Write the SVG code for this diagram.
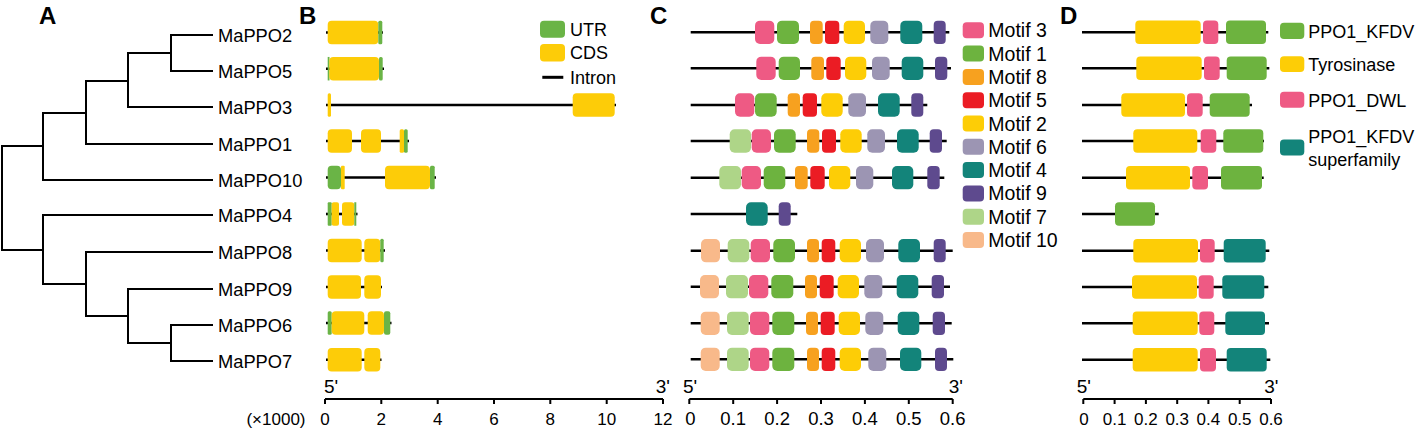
<svg xmlns="http://www.w3.org/2000/svg" width="1417" height="429" viewBox="0 0 1417 429">
<style>
text{font-family:"Liberation Sans",Arial,sans-serif;fill:#000}
.lbl{font-size:18.3px}
.pl{font-size:24px;font-weight:bold}
.tk{font-size:17px;text-anchor:middle}
.tkc{font-size:18.5px;text-anchor:middle}
.end{font-size:19px}
.lg{font-size:18px}
.lgc{font-size:19.5px}
.tree{fill:none;stroke:#000;stroke-width:2;stroke-linecap:square}
.ln{stroke:#000;stroke-width:2.6}
.ax{stroke:#000;stroke-width:2;fill:none}
.utr{fill:#6AB446}.cds{fill:#FDCC08}
.m1{fill:#6DB33F}.m2{fill:#FDCD06}.m3{fill:#EE5A84}.m4{fill:#13847A}.m5{fill:#EB1C24}
.m6{fill:#9C95B3}.m7{fill:#AED588}.m8{fill:#F7A11F}.m9{fill:#5E4A8E}.m10{fill:#F8B98A}
</style>
<g id="panel-labels">
<text class="pl" x="39" y="24">A</text>
<text class="pl" x="299" y="24">B</text>
<text class="pl" x="650" y="24">C</text>
<text class="pl" x="1060" y="24">D</text>
</g>
<g id="tree-connectors">
<path class="tree" d="M171,35V71M171,35H212M171,71H212"/>
<path class="tree" d="M128,53V107M128,53H171M128,107H212"/>
<path class="tree" d="M86,81V144M86,81H128M86,144H212"/>
<path class="tree" d="M43,113V180M43,113H86M43,180H212"/>
<path class="tree" d="M2,146V250M2,146H43M2,250H43"/>
<path class="tree" d="M43,215V284M43,215H212M43,284H86"/>
<path class="tree" d="M86,252V316M86,252H212M86,316H128"/>
<path class="tree" d="M128,289V343M128,289H212M128,343H171"/>
<path class="tree" d="M171,325V361M171,325H212M171,361H212"/>
</g>
<g id="tree-labels">
<text id="leaf-MaPPO2" class="lbl" x="218" y="41.5">MaPPO2</text>
<text id="leaf-MaPPO5" class="lbl" x="218" y="77.5">MaPPO5</text>
<text id="leaf-MaPPO3" class="lbl" x="218" y="113.5">MaPPO3</text>
<text id="leaf-MaPPO1" class="lbl" x="218" y="150.5">MaPPO1</text>
<text id="leaf-MaPPO10" class="lbl" x="218" y="186.5">MaPPO10</text>
<text id="leaf-MaPPO4" class="lbl" x="218" y="221.5">MaPPO4</text>
<text id="leaf-MaPPO8" class="lbl" x="218" y="258.5">MaPPO8</text>
<text id="leaf-MaPPO9" class="lbl" x="218" y="295.5">MaPPO9</text>
<text id="leaf-MaPPO6" class="lbl" x="218" y="331.5">MaPPO6</text>
<text id="leaf-MaPPO7" class="lbl" x="218" y="367.5">MaPPO7</text>
</g>
<!-- Panel B gene structures -->
<g id="B-MaPPO2" transform="translate(0,32.5)">
<line class="ln" x1="326" x2="383" y1="0" y2="0"/>
<rect class="cds" x="327.7" y="-11.75" width="50.6" height="23.5" rx="4"/>
<rect class="utr" x="378.3" y="-11.75" width="4" height="23.5" rx="1.5"/>
</g>
<g id="B-MaPPO5" transform="translate(0,68.7)">
<line class="ln" x1="326" x2="384" y1="0" y2="0"/>
<rect class="utr" x="327.7" y="-11.75" width="1.8" height="23.5"/>
<rect class="cds" x="329.3" y="-11.75" width="49.7" height="23.5" rx="4"/>
<rect class="utr" x="379" y="-11.75" width="3.7" height="23.5" rx="1.5"/>
</g>
<g id="B-MaPPO3" transform="translate(0,105)">
<line class="ln" x1="326" x2="616" y1="0" y2="0"/>
<rect class="cds" x="327.7" y="-11.75" width="3.3" height="23.5" rx="1.5"/>
<rect class="cds" x="572.7" y="-11.75" width="42" height="23.5" rx="4"/>
</g>
<g id="B-MaPPO1" transform="translate(0,141)">
<line class="ln" x1="326" x2="409" y1="0" y2="0"/>
<rect class="cds" x="327.7" y="-11.75" width="24.3" height="23.5" rx="4"/>
<rect class="cds" x="361" y="-11.75" width="20" height="23.5" rx="4"/>
<rect class="cds" x="399.7" y="-11.75" width="4.3" height="23.5" rx="1.5"/>
<rect class="utr" x="404" y="-11.75" width="3.7" height="23.5" rx="1.5"/>
</g>
<g id="B-MaPPO10" transform="translate(0,177.5)">
<line class="ln" x1="326" x2="436" y1="0" y2="0"/>
<rect class="utr" x="327.7" y="-11.75" width="13.3" height="23.5" rx="4"/>
<rect class="cds" x="341" y="-11.75" width="3.7" height="23.5" rx="1"/>
<rect class="cds" x="385" y="-11.75" width="45" height="23.5" rx="4"/>
<rect class="utr" x="430" y="-11.75" width="4.7" height="23.5" rx="1.5"/>
</g>
<g id="B-MaPPO4" transform="translate(0,214)">
<line class="ln" x1="326" x2="357.5" y1="0" y2="0"/>
<rect class="utr" x="327.7" y="-11.75" width="4" height="23.5" rx="1"/>
<rect class="cds" x="331.7" y="-11.75" width="7.3" height="23.5" rx="2"/>
<rect class="cds" x="342" y="-11.75" width="12.3" height="23.5" rx="3"/>
<rect class="utr" x="354.3" y="-11.75" width="2" height="23.5"/>
</g>
<g id="B-MaPPO8" transform="translate(0,250.5)">
<line class="ln" x1="326" x2="385" y1="0" y2="0"/>
<rect class="cds" x="327.7" y="-11.75" width="34" height="23.5" rx="4"/>
<rect class="cds" x="364.3" y="-11.75" width="16" height="23.5" rx="4"/>
<rect class="utr" x="380.3" y="-11.75" width="3.4" height="23.5" rx="1.5"/>
</g>
<g id="B-MaPPO9" transform="translate(0,287)">
<line class="ln" x1="326" x2="382" y1="0" y2="0"/>
<rect class="cds" x="327.7" y="-11.75" width="33.3" height="23.5" rx="4"/>
<rect class="cds" x="364.3" y="-11.75" width="16.7" height="23.5" rx="4"/>
</g>
<g id="B-MaPPO6" transform="translate(0,323)">
<line class="ln" x1="326" x2="391.5" y1="0" y2="0"/>
<rect class="utr" x="327.7" y="-11.75" width="4" height="23.5" rx="1.5"/>
<rect class="cds" x="331.7" y="-11.75" width="32.6" height="23.5" rx="4"/>
<rect class="cds" x="367.7" y="-11.75" width="16.3" height="23.5" rx="4"/>
<rect class="utr" x="384" y="-11.75" width="6.3" height="23.5" rx="2"/>
</g>
<g id="B-MaPPO7" transform="translate(0,359.7)">
<line class="ln" x1="326" x2="381.5" y1="0" y2="0"/>
<rect class="cds" x="327.7" y="-11.75" width="34" height="23.5" rx="4"/>
<rect class="cds" x="364.3" y="-11.75" width="16" height="23.5" rx="4"/>
</g>
<g id="B-legend">
<rect class="utr" x="540" y="20.7" width="25" height="17" rx="4"/>
<text class="lg" x="570" y="35.8">UTR</text>
<rect class="cds" x="540" y="44" width="25" height="17.5" rx="4"/>
<text class="lg" x="570" y="59.3">CDS</text>
<line x1="542.3" x2="563.3" y1="77.3" y2="77.3" stroke="#000" stroke-width="3"/>
<text class="lg" x="570" y="83.5">Intron</text>
</g>
<g id="B-axis">
<path class="ax" d="M325,399H663M325,399v5M381.3,399v5M437.7,399v5M494,399v5M550.3,399v5M606.7,399v5M663,399v5"/>
<text class="end" x="324" y="393">5'</text>
<text class="end" x="670" y="393" text-anchor="end">3'</text>
<text class="tk" x="325" y="425">0</text>
<text class="tk" x="381.3" y="425">2</text>
<text class="tk" x="437.7" y="425">4</text>
<text class="tk" x="494" y="425">6</text>
<text class="tk" x="550.3" y="425">8</text>
<text class="tk" x="606.7" y="425">10</text>
<text class="tk" x="663" y="425">12</text>
<text class="tk" x="276" y="425">(×1000)</text>
</g>
<!-- Panel C motifs -->
<g id="C-MaPPO2" transform="translate(0,32.3)">
<line class="ln" x1="690.7" x2="949.3" y1="0" y2="0"/>
<rect class="m3" x="755" y="-11.65" width="19.3" height="23.3" rx="5"/>
<rect class="m1" x="777" y="-11.65" width="22" height="23.3" rx="5"/>
<rect class="m8" x="810" y="-11.65" width="12.7" height="23.3" rx="4"/>
<rect class="m5" x="825" y="-11.65" width="14.3" height="23.3" rx="4"/>
<rect class="m2" x="843.7" y="-11.65" width="21.3" height="23.3" rx="5"/>
<rect class="m6" x="870.3" y="-11.65" width="18" height="23.3" rx="5"/>
<rect class="m4" x="900.3" y="-11.65" width="22" height="23.3" rx="5"/>
<rect class="m9" x="933.7" y="-11.65" width="12" height="23.3" rx="4"/>
</g>
<g id="C-MaPPO5" transform="translate(0,68.3)">
<line class="ln" x1="690.7" x2="951" y1="0" y2="0"/>
<rect class="m3" x="756.3" y="-11.65" width="19.4" height="23.3" rx="5"/>
<rect class="m1" x="778.7" y="-11.65" width="21.3" height="23.3" rx="5"/>
<rect class="m8" x="811.3" y="-11.65" width="12.7" height="23.3" rx="4"/>
<rect class="m5" x="826.3" y="-11.65" width="14.4" height="23.3" rx="4"/>
<rect class="m2" x="845" y="-11.65" width="21.3" height="23.3" rx="5"/>
<rect class="m6" x="872" y="-11.65" width="17.7" height="23.3" rx="5"/>
<rect class="m4" x="901.7" y="-11.65" width="21.6" height="23.3" rx="5"/>
<rect class="m9" x="935" y="-11.65" width="12.3" height="23.3" rx="4"/>
</g>
<g id="C-MaPPO3" transform="translate(0,105)">
<line class="ln" x1="690.7" x2="927.3" y1="0" y2="0"/>
<rect class="m3" x="735" y="-11.65" width="19.3" height="23.3" rx="5"/>
<rect class="m1" x="755" y="-11.65" width="21.7" height="23.3" rx="5"/>
<rect class="m8" x="787.7" y="-11.65" width="12.3" height="23.3" rx="4"/>
<rect class="m5" x="802.7" y="-11.65" width="14.3" height="23.3" rx="4"/>
<rect class="m2" x="821.3" y="-11.65" width="21.4" height="23.3" rx="5"/>
<rect class="m6" x="848.3" y="-11.65" width="17.7" height="23.3" rx="5"/>
<rect class="m4" x="878" y="-11.65" width="21.7" height="23.3" rx="5"/>
<rect class="m9" x="911.3" y="-11.65" width="12" height="23.3" rx="4"/>
</g>
<g id="C-MaPPO1" transform="translate(0,141)">
<line class="ln" x1="690.7" x2="946.7" y1="0" y2="0"/>
<rect class="m7" x="729.7" y="-11.65" width="21.3" height="23.3" rx="5"/>
<rect class="m3" x="751.7" y="-11.65" width="19.3" height="23.3" rx="5"/>
<rect class="m1" x="774" y="-11.65" width="21.7" height="23.3" rx="5"/>
<rect class="m8" x="807" y="-11.65" width="12.3" height="23.3" rx="4"/>
<rect class="m5" x="822" y="-11.65" width="14" height="23.3" rx="4"/>
<rect class="m2" x="840.3" y="-11.65" width="21.4" height="23.3" rx="5"/>
<rect class="m6" x="867.3" y="-11.65" width="17.7" height="23.3" rx="5"/>
<rect class="m4" x="897" y="-11.65" width="21.7" height="23.3" rx="5"/>
<rect class="m9" x="929.7" y="-11.65" width="12.3" height="23.3" rx="4"/>
</g>
<g id="C-MaPPO10" transform="translate(0,177.7)">
<line class="ln" x1="690.7" x2="944.3" y1="0" y2="0"/>
<rect class="m7" x="719.3" y="-11.65" width="21.7" height="23.3" rx="5"/>
<rect class="m3" x="741.7" y="-11.65" width="19.3" height="23.3" rx="5"/>
<rect class="m1" x="763.7" y="-11.65" width="21.6" height="23.3" rx="5"/>
<rect class="m8" x="795" y="-11.65" width="12.7" height="23.3" rx="4"/>
<rect class="m5" x="810.3" y="-11.65" width="14.4" height="23.3" rx="4"/>
<rect class="m2" x="829" y="-11.65" width="21.3" height="23.3" rx="5"/>
<rect class="m6" x="856" y="-11.65" width="17.3" height="23.3" rx="5"/>
<rect class="m4" x="892" y="-11.65" width="21.3" height="23.3" rx="5"/>
<rect class="m9" x="927.3" y="-11.65" width="12.4" height="23.3" rx="4"/>
</g>
<g id="C-MaPPO4" transform="translate(0,214)">
<line class="ln" x1="690.7" x2="797.3" y1="0" y2="0"/>
<rect class="m4" x="746" y="-11.65" width="21.7" height="23.3" rx="5"/>
<rect class="m9" x="778.7" y="-11.65" width="12" height="23.3" rx="4"/>
</g>
<g id="C-MaPPO8" transform="translate(0,250.7)">
<line class="ln" x1="690.7" x2="952.7" y1="0" y2="0"/>
<rect class="m10" x="701" y="-11.65" width="19" height="23.3" rx="5"/>
<rect class="m7" x="727.7" y="-11.65" width="21.6" height="23.3" rx="5"/>
<rect class="m3" x="750.7" y="-11.65" width="19.3" height="23.3" rx="5"/>
<rect class="m1" x="773.3" y="-11.65" width="21.7" height="23.3" rx="5"/>
<rect class="m8" x="807" y="-11.65" width="12" height="23.3" rx="4"/>
<rect class="m5" x="821.7" y="-11.65" width="13.6" height="23.3" rx="4"/>
<rect class="m2" x="839.7" y="-11.65" width="21.3" height="23.3" rx="5"/>
<rect class="m6" x="866" y="-11.65" width="18" height="23.3" rx="5"/>
<rect class="m4" x="898.3" y="-11.65" width="21.7" height="23.3" rx="5"/>
<rect class="m9" x="933.7" y="-11.65" width="12" height="23.3" rx="4"/>
</g>
<g id="C-MaPPO9" transform="translate(0,286.7)">
<line class="ln" x1="690.7" x2="950" y1="0" y2="0"/>
<rect class="m10" x="700" y="-11.65" width="19" height="23.3" rx="5"/>
<rect class="m7" x="726" y="-11.65" width="22" height="23.3" rx="5"/>
<rect class="m3" x="749" y="-11.65" width="19.3" height="23.3" rx="5"/>
<rect class="m1" x="771.3" y="-11.65" width="22" height="23.3" rx="5"/>
<rect class="m8" x="805" y="-11.65" width="12" height="23.3" rx="4"/>
<rect class="m5" x="819.7" y="-11.65" width="14" height="23.3" rx="4"/>
<rect class="m2" x="837.7" y="-11.65" width="21.3" height="23.3" rx="5"/>
<rect class="m6" x="864.3" y="-11.65" width="18" height="23.3" rx="5"/>
<rect class="m4" x="896.7" y="-11.65" width="21.6" height="23.3" rx="5"/>
<rect class="m9" x="931.7" y="-11.65" width="12.3" height="23.3" rx="4"/>
</g>
<g id="C-MaPPO6" transform="translate(0,323.3)">
<line class="ln" x1="690.7" x2="951.7" y1="0" y2="0"/>
<rect class="m10" x="700.7" y="-11.65" width="19" height="23.3" rx="5"/>
<rect class="m7" x="727" y="-11.65" width="21.7" height="23.3" rx="5"/>
<rect class="m3" x="750" y="-11.65" width="19.3" height="23.3" rx="5"/>
<rect class="m1" x="772.3" y="-11.65" width="22" height="23.3" rx="5"/>
<rect class="m8" x="806" y="-11.65" width="12" height="23.3" rx="4"/>
<rect class="m5" x="820.7" y="-11.65" width="14" height="23.3" rx="4"/>
<rect class="m2" x="838.7" y="-11.65" width="21.3" height="23.3" rx="5"/>
<rect class="m6" x="865.3" y="-11.65" width="18" height="23.3" rx="5"/>
<rect class="m4" x="897.7" y="-11.65" width="21.6" height="23.3" rx="5"/>
<rect class="m9" x="932.7" y="-11.65" width="12.3" height="23.3" rx="4"/>
</g>
<g id="C-MaPPO7" transform="translate(0,359.3)">
<line class="ln" x1="690.7" x2="953.3" y1="0" y2="0"/>
<rect class="m10" x="700.7" y="-11.65" width="19" height="23.3" rx="5"/>
<rect class="m7" x="727" y="-11.65" width="21.7" height="23.3" rx="5"/>
<rect class="m3" x="750" y="-11.65" width="19.3" height="23.3" rx="5"/>
<rect class="m1" x="772.3" y="-11.65" width="22" height="23.3" rx="5"/>
<rect class="m8" x="807" y="-11.65" width="12" height="23.3" rx="4"/>
<rect class="m5" x="821.7" y="-11.65" width="13.6" height="23.3" rx="4"/>
<rect class="m2" x="839.7" y="-11.65" width="21.3" height="23.3" rx="5"/>
<rect class="m6" x="868.3" y="-11.65" width="18" height="23.3" rx="5"/>
<rect class="m4" x="900" y="-11.65" width="21.3" height="23.3" rx="5"/>
<rect class="m9" x="935" y="-11.65" width="12" height="23.3" rx="4"/>
</g>
<g id="C-legend">
<rect class="m3" x="962.7" y="22.3" width="21.3" height="16" rx="4"/><text class="lgc" x="988.3" y="37.3">Motif 3</text>
<rect class="m1" x="962.7" y="45.6" width="21.3" height="16" rx="4"/><text class="lgc" x="988.3" y="60.6">Motif 1</text>
<rect class="m8" x="962.7" y="68.9" width="21.3" height="16" rx="4"/><text class="lgc" x="988.3" y="83.9">Motif 8</text>
<rect class="m5" x="962.7" y="92.2" width="21.3" height="16" rx="4"/><text class="lgc" x="988.3" y="107.2">Motif 5</text>
<rect class="m2" x="962.7" y="115.5" width="21.3" height="16" rx="4"/><text class="lgc" x="988.3" y="130.5">Motif 2</text>
<rect class="m6" x="962.7" y="138.8" width="21.3" height="16" rx="4"/><text class="lgc" x="988.3" y="153.8">Motif 6</text>
<rect class="m4" x="962.7" y="162.1" width="21.3" height="16" rx="4"/><text class="lgc" x="988.3" y="177.1">Motif 4</text>
<rect class="m9" x="962.7" y="185.4" width="21.3" height="16" rx="4"/><text class="lgc" x="988.3" y="200.4">Motif 9</text>
<rect class="m7" x="962.7" y="208.7" width="21.3" height="16" rx="4"/><text class="lgc" x="988.3" y="223.7">Motif 7</text>
<rect class="m10" x="962.7" y="232" width="21.3" height="16" rx="4"/><text class="lgc" x="988.3" y="247">Motif 10</text>
</g>
<g id="C-axis">
<path class="ax" d="M689.3,399H952.7M689.3,399v5M733.2,399v5M777.1,399v5M821,399v5M864.9,399v5M908.8,399v5M952.7,399v5"/>
<text class="end" x="683" y="393">5'</text>
<text class="end" x="963" y="393" text-anchor="end">3'</text>
<text class="tkc" x="690.5" y="425">0</text>
<text class="tkc" x="733.2" y="425">0.1</text>
<text class="tkc" x="777.1" y="425">0.2</text>
<text class="tkc" x="821" y="425">0.3</text>
<text class="tkc" x="864.9" y="425">0.4</text>
<text class="tkc" x="908.8" y="425">0.5</text>
<text class="tkc" x="952.7" y="425">0.6</text>
</g>
<!-- Panel D domains -->
<g id="D-MaPPO2" transform="translate(0,32.3)">
<line class="ln" x1="1082" x2="1268.3" y1="0" y2="0"/>
<rect class="m2" x="1135.3" y="-11.75" width="65.4" height="23.5" rx="4"/>
<rect class="m3" x="1203" y="-11.75" width="15.3" height="23.5" rx="4"/>
<rect class="m1" x="1226" y="-11.75" width="40" height="23.5" rx="4"/>
</g>
<g id="D-MaPPO5" transform="translate(0,68.3)">
<line class="ln" x1="1082" x2="1269.3" y1="0" y2="0"/>
<rect class="m2" x="1136.3" y="-11.75" width="65.4" height="23.5" rx="4"/>
<rect class="m3" x="1204" y="-11.75" width="15.7" height="23.5" rx="4"/>
<rect class="m1" x="1226.7" y="-11.75" width="40" height="23.5" rx="4"/>
</g>
<g id="D-MaPPO3" transform="translate(0,105)">
<line class="ln" x1="1082" x2="1252" y1="0" y2="0"/>
<rect class="m2" x="1121.3" y="-11.75" width="63.7" height="23.5" rx="4"/>
<rect class="m3" x="1187" y="-11.75" width="15.7" height="23.5" rx="4"/>
<rect class="m1" x="1209.7" y="-11.75" width="40" height="23.5" rx="4"/>
</g>
<g id="D-MaPPO1" transform="translate(0,141)">
<line class="ln" x1="1082" x2="1264" y1="0" y2="0"/>
<rect class="m2" x="1133.3" y="-11.75" width="64" height="23.5" rx="4"/>
<rect class="m3" x="1200.7" y="-11.75" width="15.6" height="23.5" rx="4"/>
<rect class="m1" x="1223.3" y="-11.75" width="40" height="23.5" rx="4"/>
</g>
<g id="D-MaPPO10" transform="translate(0,177.7)">
<line class="ln" x1="1082" x2="1263.7" y1="0" y2="0"/>
<rect class="m2" x="1126" y="-11.75" width="64" height="23.5" rx="4"/>
<rect class="m3" x="1192.3" y="-11.75" width="15.7" height="23.5" rx="4"/>
<rect class="m1" x="1221" y="-11.75" width="41" height="23.5" rx="4"/>
</g>
<g id="D-MaPPO4" transform="translate(0,214)">
<line class="ln" x1="1082" x2="1158.7" y1="0" y2="0"/>
<rect class="m1" x="1115" y="-11.75" width="40" height="23.5" rx="4"/>
</g>
<g id="D-MaPPO8" transform="translate(0,250.7)">
<line class="ln" x1="1082" x2="1269.3" y1="0" y2="0"/>
<rect class="m2" x="1133.3" y="-11.75" width="64.7" height="23.5" rx="4"/>
<rect class="m3" x="1200" y="-11.75" width="14.7" height="23.5" rx="4"/>
<rect class="m4" x="1223.7" y="-11.75" width="42" height="23.5" rx="4"/>
</g>
<g id="D-MaPPO9" transform="translate(0,287)">
<line class="ln" x1="1082" x2="1268.3" y1="0" y2="0"/>
<rect class="m2" x="1132" y="-11.75" width="65" height="23.5" rx="4"/>
<rect class="m3" x="1198.7" y="-11.75" width="15" height="23.5" rx="4"/>
<rect class="m4" x="1222.3" y="-11.75" width="42" height="23.5" rx="4"/>
</g>
<g id="D-MaPPO6" transform="translate(0,323.3)">
<line class="ln" x1="1082" x2="1269" y1="0" y2="0"/>
<rect class="m2" x="1132.7" y="-11.75" width="65" height="23.5" rx="4"/>
<rect class="m3" x="1199.3" y="-11.75" width="15" height="23.5" rx="4"/>
<rect class="m4" x="1225.3" y="-11.75" width="39.7" height="23.5" rx="4"/>
</g>
<g id="D-MaPPO7" transform="translate(0,359.7)">
<line class="ln" x1="1082" x2="1270.3" y1="0" y2="0"/>
<rect class="m2" x="1132.7" y="-11.75" width="65" height="23.5" rx="4"/>
<rect class="m3" x="1200" y="-11.75" width="16" height="23.5" rx="4"/>
<rect class="m4" x="1226.7" y="-11.75" width="40" height="23.5" rx="4"/>
</g>
<g id="D-legend">
<rect class="m1" x="1280" y="22.7" width="24.3" height="16.3" rx="4"/><text class="lg" x="1308.3" y="37.6">PPO1_KFDV</text>
<rect class="m2" x="1280" y="56.3" width="24.3" height="15.7" rx="4"/><text class="lg" x="1308.3" y="71">Tyrosinase</text>
<rect class="m3" x="1280" y="91.7" width="24.3" height="16" rx="4"/><text class="lg" x="1308.3" y="106.5">PPO1_DWL</text>
<rect class="m4" x="1280" y="139.5" width="24.3" height="16" rx="4"/>
<text class="lg" x="1308.3" y="143.3">PPO1_KFDV</text>
<text class="lg" x="1308.3" y="166">superfamily</text>
</g>
<g id="D-axis">
<path class="ax" d="M1083.3,399H1271M1083.3,399v5M1114.6,399v5M1145.9,399v5M1177.2,399v5M1208.4,399v5M1239.7,399v5M1271,399v5"/>
<text class="end" x="1076.7" y="393">5'</text>
<text class="end" x="1278.5" y="393" text-anchor="end">3'</text>
<text class="tk" x="1084" y="425">0</text>
<text class="tk" x="1114.6" y="425">0.1</text>
<text class="tk" x="1145.9" y="425">0.2</text>
<text class="tk" x="1177.2" y="425">0.3</text>
<text class="tk" x="1208.4" y="425">0.4</text>
<text class="tk" x="1239.7" y="425">0.5</text>
<text class="tk" x="1271" y="425">0.6</text>
</g>
</svg>
